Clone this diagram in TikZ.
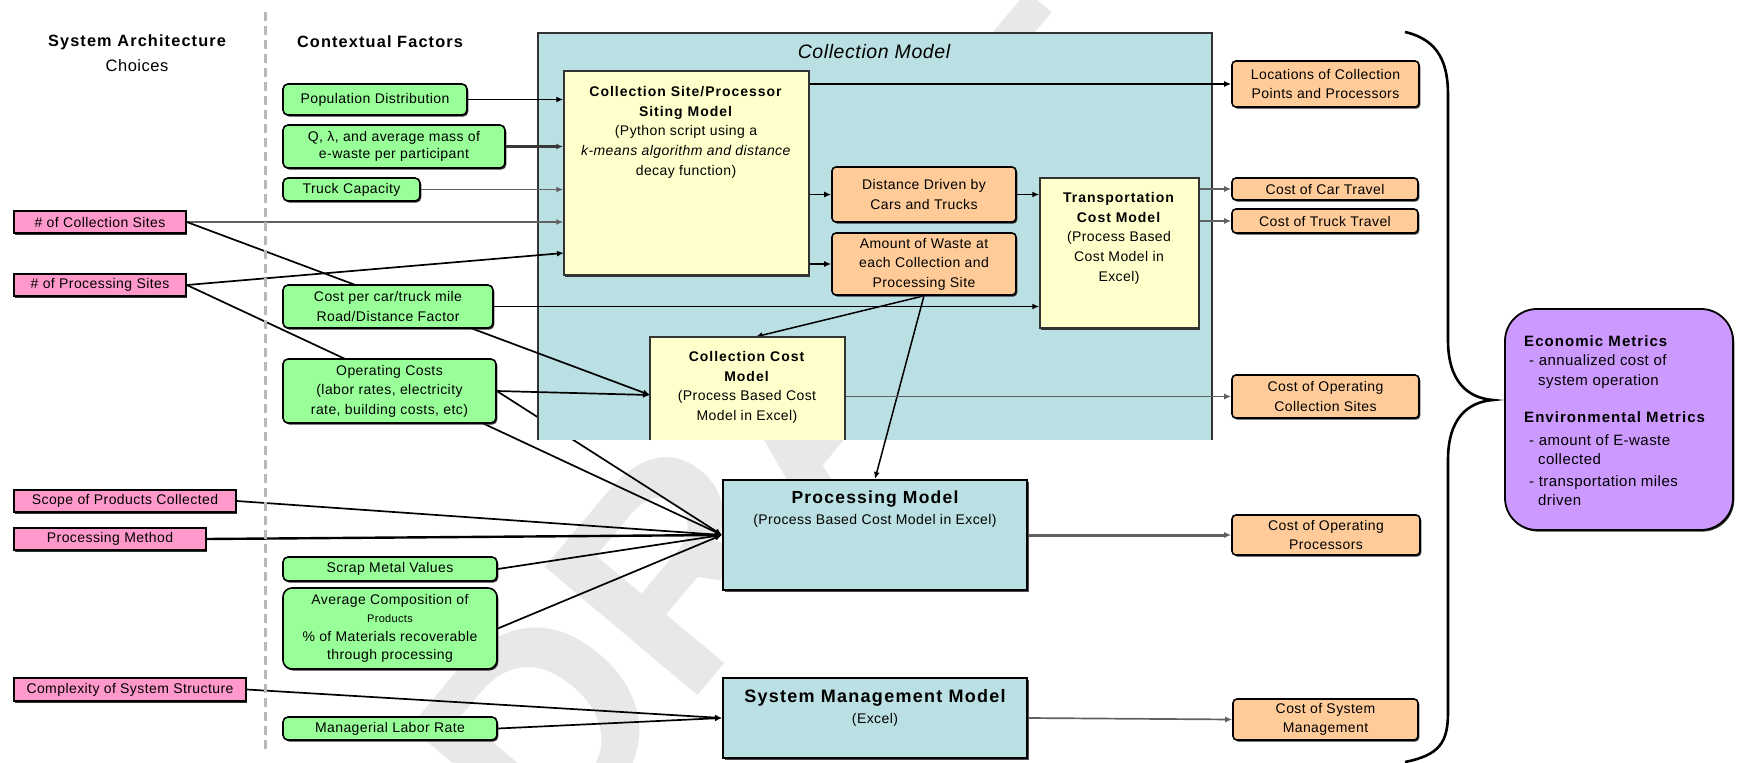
\documentclass[tikz,border=0pt]{standalone}
\usepackage{fontspec}
\setmainfont{Liberation Sans}[LetterSpace=3, BoldFeatures={LetterSpace=7}]
\newfontfamily\wmfont{Liberation Sans}
\usetikzlibrary{arrows.meta,shadows}

\definecolor{gfill}{HTML}{99FF99}
\definecolor{pfill}{HTML}{FF99CC}
\definecolor{ofill}{HTML}{FFCC99}
\definecolor{yfill}{HTML}{FFFFCC}
\definecolor{tfill}{HTML}{BBE0E3}
\definecolor{vfill}{HTML}{CC99FF}

\pgfdeclarelayer{wm}
\pgfdeclarelayer{under}
\pgfdeclarelayer{frame}
\pgfdeclarelayer{links}
\pgfsetlayers{wm,under,frame,links,main}

% box from its corner coordinates: name, style, x1, y1, x2, y2, text
\newcommand\boxnode[7]{%
  \pgfmathsetmacro\bxw{(#5)-(#3)}%
  \pgfmathsetmacro\bxh{(#6)-(#4)}%
  \pgfmathsetmacro\bxc{((#3)+(#5))/2}%
  \pgfmathsetmacro\byc{((#4)+(#6))/2}%
  \node[#2, minimum width=\bxw pt, minimum height=\bxh pt] (#1) at (\bxc,\byc) {#7};}

\tikzset{
  basebox/.style={draw=black, line width=1.6pt, align=center, inner sep=1pt,
    font=\fontsize{14}{19.5}\selectfont},
  boxshadow/.style={drop shadow={shadow xshift=1.3pt, shadow yshift=-1.6pt,
    fill=black!80, opacity=1}},
  gbox/.style={basebox, fill=gfill, rounded corners=5pt, boxshadow},
  pbox/.style={basebox, fill=pfill, boxshadow},
  obox/.style={basebox, fill=ofill, rounded corners=4pt, boxshadow},
  ybox/.style={basebox, draw=black!80, line width=1.5pt, fill=yfill, boxshadow},
  tbox/.style={basebox, line width=2pt, fill=tfill,
    drop shadow={shadow xshift=1.5pt, shadow yshift=-1.8pt, fill=black!70, opacity=1}},
  vbox/.style={basebox, line width=1.8pt, fill=vfill, rounded corners=32pt, boxshadow},
  txt/.style={align=center, inner sep=0pt, font=\fontsize{14}{19.7}\selectfont},
  link/.style={line width=1.7pt, draw=black, -{Latex[length=7pt,width=6pt]}},
  glink/.style={link, draw=black!62},
  separator/.style={draw=black!28, line width=3pt, dash pattern=on 9pt off 5pt},
}

\begin{document}
\begin{tikzpicture}[x=1pt,y=-1pt]
\useasboundingbox (0,0) rectangle (1738,763);

% watermark
\begin{pgfonlayer}{wm}
  \begin{scope}
    \clip (0,0) rectangle (1738,763);
    \node[font={\wmfont\bfseries\fontsize{290}{290}\selectfont}, text=black!9,
      rotate=50, inner sep=0pt] (wmk) at (790,430) {DRAFT};
  \end{scope}
\end{pgfonlayer}

% column headings
\node[font=\fontsize{16.3}{19}\selectfont\bfseries] (hsa) at (137,42) {System Architecture};
\node[font=\fontsize{16.5}{19}\selectfont] (hch) at (137,66) {Choices};
\node[font=\fontsize{16.3}{19}\selectfont\bfseries] (hcf) at (380,42) {Contextual Factors};
\coordinate (septop) at (265,12);
\coordinate (sepbot) at (265,753);
\draw[separator] (septop) -- (sepbot);

% architecture choices
\boxnode{csites}{pbox}{14}{211}{186}{233}{\# of Collection Sites}
\boxnode{psites}{pbox}{14}{274}{186}{296}{\# of Processing Sites}
\boxnode{scope}{pbox}{14}{490}{236}{512}{Scope of Products Collected}
\boxnode{pmeth}{pbox}{14}{528}{206}{550}{Processing Method}
\boxnode{cplx}{pbox}{14}{678}{246}{701}{Complexity of System Structure}

% contextual factors
\boxnode{pop}{gbox}{283}{84}{467}{115}{Population Distribution}
\boxnode{qlam}{gbox, font=\fontsize{14}{17}\selectfont}{283}{125}{505}{168}{Q, λ, and average mass of\\e-waste per participant}
\boxnode{truck}{gbox}{283}{178}{420}{201}{Truck Capacity}
\boxnode{cpc}{gbox}{283}{285}{493}{328}{Cost per car/truck mile\\Road/Distance Factor}
\boxnode{opc}{gbox}{283}{359}{496}{423}{Operating Costs\\(labor rates, electricity\\rate, building costs, etc)}
\boxnode{scrap}{gbox}{283}{557}{497}{581}{Scrap Metal Values}
\boxnode{avgc}{gbox, rounded corners=9pt, font=\fontsize{14}{18.3}\selectfont}{283}{588}{497}{669}{Average Composition of\\{\fontsize{11}{13}\selectfont Products}\\\% of Materials recoverable\\through processing}
\boxnode{mgr}{gbox}{283}{717}{497}{740}{Managerial Labor Rate}

% collection model frame
\begin{pgfonlayer}{frame}
  \boxnode{cm}{fill=tfill, inner sep=0pt}{538}{33}{1212}{440}{}
  \draw[black!80, line width=1.6pt] (cm.south west) |- (cm.north east) -- (cm.south east);
  \node[txt, font=\fontsize{19.5}{22}\selectfont\itshape] (cmtitle) at (874,52) {Collection Model};
\end{pgfonlayer}

% models
\boxnode{csite}{ybox}{564}{71}{809}{275}{}
\node[txt, anchor=north] (csitetxt) at (686,86)
  {\textbf{Collection Site/Processor}\\\textbf{Siting Model}\\(Python script using a\\\textit{k-means algorithm and distance}\\decay function)};
\boxnode{trans}{ybox}{1040}{178}{1199}{328}{}
\node[txt, anchor=north] (transtxt) at (1119,192)
  {\textbf{Transportation}\\\textbf{Cost Model}\\(Process Based\\Cost Model in\\Excel)};
\boxnode{ccm}{fill=yfill, inner sep=0pt}{650}{337}{845}{440}{}
\draw[black!80, line width=1.5pt] (ccm.south west) |- (ccm.north east) -- (ccm.south east);
\node[txt, anchor=north] (ccmtxt) at (747,351)
  {\textbf{Collection Cost}\\\textbf{Model}\\(Process Based Cost\\Model in Excel)};
\boxnode{pm}{tbox}{723}{480}{1027}{590}{}
\node[txt, anchor=north, font=\fontsize{14}{21}\selectfont] (pmtxt) at (875,491)
  {{\fontsize{17.5}{20}\selectfont\bfseries Processing Model}\\(Process Based Cost Model in Excel)};
\boxnode{smm}{tbox}{723}{678}{1027}{758}{}
\node[txt, anchor=north, font=\fontsize{14}{21}\selectfont] (smmtxt) at (875,689)
  {{\fontsize{18}{21}\selectfont\bfseries System Management Model}\\(Excel)};

% intermediate results and outputs
\boxnode{dist}{obox}{832}{167}{1016}{222}{Distance Driven by\\Cars and Trucks}
\boxnode{amt}{obox}{832}{233}{1016}{295}{Amount of Waste at\\each Collection and\\Processing Site}
\boxnode{loc}{obox}{1232}{61}{1419}{107}{Locations of Collection\\Points and Processors}
\boxnode{car}{obox}{1232}{178}{1418}{200}{Cost of Car Travel}
\boxnode{trk}{obox}{1232}{209}{1418}{233}{Cost of Truck Travel}
\boxnode{ocs}{obox}{1232}{375}{1419}{418}{Cost of Operating\\Collection Sites}
\boxnode{ocp}{obox}{1232}{515}{1420}{555}{Cost of Operating\\Processors}
\boxnode{csm}{obox}{1233}{699}{1418}{740}{Cost of System\\Management}

% metrics
\boxnode{metrics}{vbox}{1505}{309}{1733}{530}{}
\node[anchor=north west, align=left, inner sep=0pt, font=\fontsize{15}{19.5}\selectfont] (metricstxt) at (1524,335)
  {\textbf{Economic Metrics}\\
   \hspace*{5pt}- annualized cost of\\
   \hspace*{14pt}system operation\\[18pt]
   \textbf{Environmental Metrics}\\[3pt]
   \hspace*{5pt}- amount of E-waste\\
   \hspace*{14pt}collected\\[2pt]
   \hspace*{5pt}- transportation miles\\
   \hspace*{14pt}driven};

% brace gathering the outputs
\coordinate (brtop) at (1405,32);
\coordinate (brtip) at (1493,400);
\coordinate (brbot) at (1405,762);
\draw[line width=2.6pt] (brtop) .. controls (1440,40) and (1448,65) .. (1448,95)
  -- (1448,340) .. controls (1448,382) and (1468,398) .. (brtip)
  .. controls (1468,402) and (1448,418) .. (1448,460)
  -- (1448,712) .. controls (1448,742) and (1440,755) .. (brbot);

% connectors
\coordinate (psin) at (564,253);
\coordinate (ccin) at (650,395);
\begin{pgfonlayer}{under}
  \draw[link] (opc.east) -- (pm.west);
\end{pgfonlayer}
\begin{pgfonlayer}{links}
  \draw[link] (pop.east) -- (pop.east -| csite.west);
  \draw[link, line width=2.4pt, draw=black!78] (qlam.east) -- (qlam.east -| csite.west);
  \draw[glink] (truck.east) -- (truck.east -| csite.west);
  \draw[glink] (csites.east) -- (csites.east -| csite.west);
  \draw[link] (psites.east) -- (psin);
  \draw[link] (csites.east) -- (ccin);
  \draw[link] (psites.east) -- (pm.west);
  \draw[link] (cpc.east) -- (cpc.east -| trans.west);
  \draw[link] (opc.east) -- (ccin);
  \draw[link] (loc.west -| csite.east) -- (loc.west);
  \draw[link] (dist.west -| csite.east) -- (dist.west);
  \draw[link] (amt.west -| csite.east) -- (amt.west);
  \draw[link] (dist.east) -- (dist.east -| trans.west);
  \draw[glink] (car.west -| trans.east) -- (car.west);
  \draw[glink] (trk.west -| trans.east) -- (trk.west);
  \draw[link, line width=1.5pt] (amt.south) -- ([xshift=8pt]ccm.north);
  \draw[link, line width=1.5pt] (amt.south) -- (pm.north);
  \draw[glink] (ocs.west -| ccm.east) -- (ocs.west);
  \draw[link] (scope.east) -- (pm.west);
  \draw[link, line width=2.4pt] (pmeth.east) -- (pm.west);
  \draw[link] (scrap.east) -- (pm.west);
  \draw[link] (avgc.east) -- (pm.west);
  \draw[glink, line width=3pt] (pm.east) -- (ocp.west);
  \draw[link] (cplx.east) -- (smm.west);
  \draw[link] (mgr.east) -- (smm.west);
  \draw[glink] (smm.east) -- (csm.west);
\end{pgfonlayer}
\end{tikzpicture}
\end{document}
